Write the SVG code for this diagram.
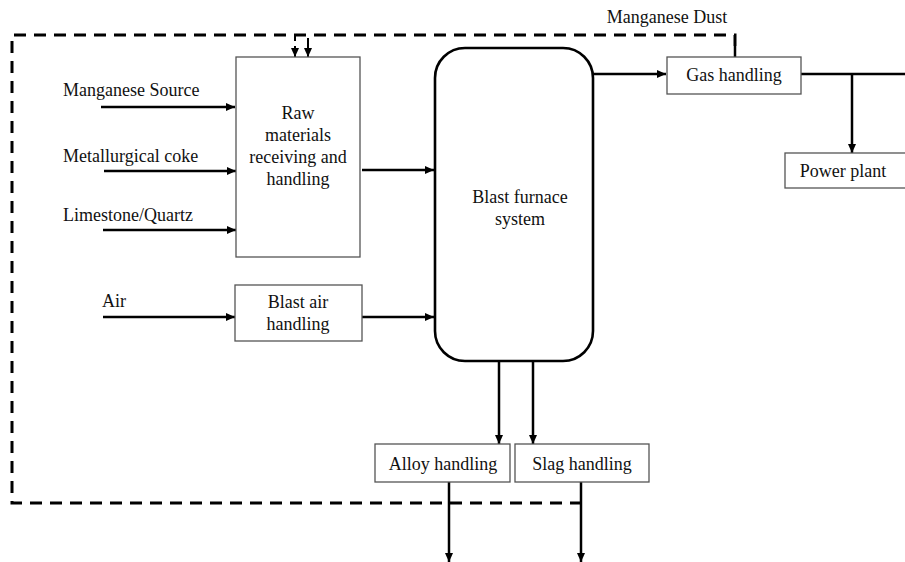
<svg xmlns="http://www.w3.org/2000/svg" width="905" height="562" viewBox="0 0 905 562">
<style>
text{font-family:"Liberation Serif","Times New Roman",serif;font-size:18px;fill:#111;}
.c{text-anchor:middle;}
.box{fill:#fff;stroke:#555;stroke-width:1.3;}
.furn{fill:#fff;stroke:#000;stroke-width:2.6;}
.ln{fill:none;stroke:#000;stroke-width:2.5;}
.arr{fill:none;stroke:#000;stroke-width:2.5;marker-end:url(#ah);}
.dash{fill:none;stroke:#000;stroke-width:3;stroke-dasharray:12 8;}
</style>
<defs>
<marker id="ah" markerUnits="userSpaceOnUse" markerWidth="10" markerHeight="10" refX="9" refY="4" orient="auto">
<path d="M0,0 L9,4 L0,8 Z" fill="#000"/>
</marker>
</defs>
<rect width="905" height="562" fill="#fff"/>

<g id="connectors">
<path class="dash" d="M735,46 L735,35 L12,35 L12,503 L581,503"/>
<path class="ln" d="M735,46 L735,57"/>
<path class="ln" d="M295,35 L295,41" style="stroke-width:2"/>
<path class="arr" d="M295,46 L295,57" style="stroke-width:2"/>
<path class="arr" d="M308,38 L308,57" style="stroke-width:2"/>
<path class="arr" d="M101,107 L235,107"/>
<path class="arr" d="M104,171 L236,171"/>
<path class="arr" d="M103,230 L236,230"/>
<path class="arr" d="M103,317 L235,317"/>
<path class="arr" d="M362,170 L434,170"/>
<path class="arr" d="M362,317 L434,317"/>
<path class="arr" d="M593,74 L666,74"/>
<path class="ln" d="M801,74 L905,74"/>
<path class="arr" d="M852,74 L852,153"/>
<path class="arr" d="M499,361 L499,444"/>
<path class="arr" d="M533,361 L533,444"/>
<path class="arr" d="M449,482 L449,562"/>
<path class="arr" d="M581,482 L581,562"/>
</g>

<g id="manganese-dust-label"><text x="667" y="23" class="c">Manganese Dust</text></g>
<g id="manganese-source"><text x="63" y="96">Manganese Source</text></g>
<g id="metallurgical-coke"><text x="63" y="162">Metallurgical coke</text></g>
<g id="limestone-quartz"><text x="63" y="221">Limestone/Quartz</text></g>
<g id="air"><text x="102" y="307">Air</text></g>

<g id="raw-materials">
<rect class="box" x="236" y="57" width="124" height="200"/>
<text x="298" y="119" class="c">Raw</text>
<text x="298" y="141" class="c">materials</text>
<text x="298" y="163" class="c">receiving and</text>
<text x="298" y="185" class="c">handling</text>
</g>

<g id="blast-air">
<rect class="box" x="235" y="285" width="127" height="56"/>
<text x="298" y="308" class="c">Blast air</text>
<text x="298" y="330" class="c">handling</text>
</g>

<g id="blast-furnace">
<rect class="furn" x="435" y="48" width="158" height="313" rx="30" ry="30"/>
<text x="520" y="203" class="c">Blast furnace</text>
<text x="520" y="225" class="c">system</text>
</g>

<g id="gas-handling">
<rect class="box" x="667" y="57" width="134" height="37"/>
<text x="734" y="81" class="c">Gas handling</text>
</g>

<g id="power-plant">
<rect class="box" x="785" y="153" width="125" height="35"/>
<text x="843" y="177" class="c">Power plant</text>
</g>

<g id="alloy-handling">
<rect class="box" x="375" y="444" width="135" height="38"/>
<text x="443" y="470" class="c">Alloy handling</text>
</g>

<g id="slag-handling">
<rect class="box" x="515" y="444" width="134" height="38"/>
<text x="582" y="470" class="c">Slag handling</text>
</g>
</svg>
